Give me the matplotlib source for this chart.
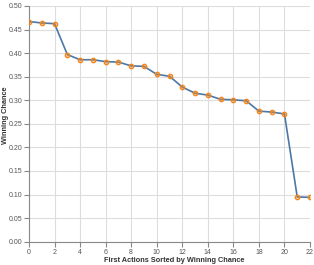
import matplotlib
matplotlib.use("Agg")
import matplotlib.pyplot as plt
from matplotlib.colors import to_rgba

plt.rcParams['font.family'] = ['Liberation Sans', 'DejaVu Sans']

x_vals = list(range(23))
win_chance = [0.467, 0.464, 0.4625, 0.397, 0.386, 0.386, 0.382, 0.381, 0.373, 0.372,
              0.355, 0.351, 0.328, 0.315, 0.311, 0.302, 0.301, 0.299, 0.277, 0.275,
              0.271, 0.095, 0.094]
x_ticks = list(range(0, 23, 2))
y_ticks = [0.0, 0.05, 0.10, 0.15, 0.20, 0.25, 0.30, 0.35, 0.40, 0.45, 0.50]

W, H = 314, 265
fig = plt.figure(figsize=(W/100, H/100), dpi=100)
ax = fig.add_axes([29/W, 1-241.7/H, (310-29)/W, (241.7-6)/H])

ax.plot(x_vals, win_chance, color="#4c78a8", lw=1.2, zorder=3)
ax.plot(x_vals, win_chance, linestyle="none", marker="o", markersize=3.2,
        markeredgecolor="#f58518", markerfacecolor=to_rgba("#f58518", 0.45),
        markeredgewidth=0.9, zorder=4)

ax.set_xlim(0, 22)
ax.set_ylim(0, 0.5)
ax.set_xticks(x_ticks)
ax.set_yticks(y_ticks)
ax.set_yticklabels([f"{v:.2f}" for v in y_ticks])
ax.grid(True, color="#dddddd", lw=0.8)
ax.set_axisbelow(True)
for s in ["top", "right"]:
    ax.spines[s].set_visible(False)
for s in ["left", "bottom"]:
    ax.spines[s].set_color("#888888")
    ax.spines[s].set_linewidth(0.8)
ax.tick_params(axis="both", length=3.5, width=0.8, color="#888888",
               labelsize=5.0, labelcolor="#555555", pad=1.5)

fig.text(174/W, 1-260/H, "First Actions Sorted by Winning Chance", fontsize=5.3,
         fontweight="bold", color="#333333", ha="center", va="center")
fig.text(5.5/W, 1-115/H, "Winning Chance", fontsize=5.3, fontweight="bold",
         color="#333333", ha="center", va="center", rotation=90)

fig.savefig("out.png", dpi=100)
